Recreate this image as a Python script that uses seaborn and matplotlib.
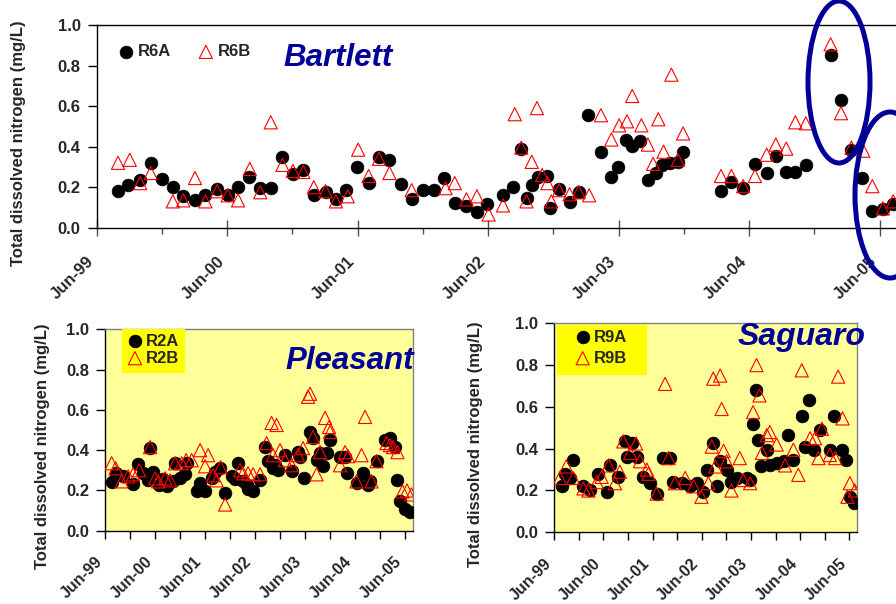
import numpy as np
import pandas as pd
import matplotlib
matplotlib.use("Agg")
import matplotlib.pyplot as plt
import seaborn as sns
from matplotlib.patches import Ellipse, Rectangle
from matplotlib.ticker import FixedLocator, FormatStrFormatter
from matplotlib.transforms import ScaledTranslation

sns.set_style("white")
plt.rcParams['font.family'] = ['Liberation Sans', 'DejaVu Sans']
plt.rcParams['font.weight'] = 'bold'

# %% Data (decimal year, mg/L)
r6a_t = [1999.58, 1999.66, 1999.75, 1999.83, 1999.92, 2000.00, 2000.08, 2000.17, 2000.25, 2000.34,
         2000.42, 2000.50, 2000.58, 2000.67, 2000.75, 2000.84, 2000.92, 2001.00, 2001.08, 2001.17,
         2001.25, 2001.33, 2001.41, 2001.50, 2001.58, 2001.66, 2001.75, 2001.83, 2001.92, 2002.00,
         2002.08, 2002.16, 2002.25, 2002.33, 2002.41, 2002.53, 2002.61, 2002.67, 2002.71, 2002.75,
         2002.80, 2002.87, 2002.89, 2002.96, 2003.04, 2003.11, 2003.18, 2003.28, 2003.36, 2003.41,
         2003.47, 2003.52, 2003.58, 2003.64, 2003.70, 2003.75, 2003.81, 2003.87, 2003.91, 2004.20,
         2004.28, 2004.37, 2004.46, 2004.55, 2004.62, 2004.70, 2004.77, 2004.85, 2005.04, 2005.12,
         2005.20, 2005.28, 2005.36, 2005.44, 2005.52]
r6a_v = [0.18, 0.21, 0.235, 0.32, 0.24, 0.20, 0.155, 0.135, 0.16, 0.19,
         0.16, 0.20, 0.25, 0.195, 0.195, 0.35, 0.265, 0.285, 0.16, 0.175,
         0.14, 0.185, 0.30, 0.22, 0.35, 0.335, 0.215, 0.14, 0.185, 0.185,
         0.245, 0.12, 0.105, 0.075, 0.115, 0.16, 0.20, 0.39, 0.145, 0.21,
         0.25, 0.255, 0.095, 0.19, 0.125, 0.175, 0.555, 0.375, 0.25, 0.30,
         0.435, 0.405, 0.43, 0.235, 0.27, 0.31, 0.32, 0.325, 0.375, 0.18,
         0.225, 0.195, 0.315, 0.27, 0.355, 0.275, 0.275, 0.31, 0.85, 0.63,
         0.385, 0.245, 0.08, 0.09, 0.115]

r6b_t = [1999.58, 1999.67, 1999.75, 1999.83, 2000.00, 2000.08, 2000.17, 2000.25, 2000.34, 2000.42,
         2000.50, 2000.59, 2000.67, 2000.75, 2000.84, 2000.92, 2001.00, 2001.08, 2001.17, 2001.25,
         2001.34, 2001.42, 2001.50, 2001.58, 2001.66, 2001.83, 2002.09, 2002.16, 2002.25, 2002.33,
         2002.42, 2002.53, 2002.62, 2002.67, 2002.71, 2002.75, 2002.79, 2002.83, 2002.87, 2002.90,
         2002.96, 2003.04, 2003.11, 2003.19, 2003.28, 2003.36, 2003.42, 2003.48, 2003.52, 2003.59,
         2003.64, 2003.68, 2003.72, 2003.76, 2003.82, 2003.87, 2003.91, 2004.20, 2004.28, 2004.37,
         2004.46, 2004.55, 2004.62, 2004.70, 2004.77, 2004.85, 2005.04, 2005.12, 2005.20, 2005.29,
         2005.36, 2005.44, 2005.52]
r6b_v = [0.32, 0.335, 0.22, 0.27, 0.13, 0.135, 0.245, 0.13, 0.18, 0.16,
         0.135, 0.29, 0.175, 0.52, 0.31, 0.28, 0.275, 0.20, 0.18, 0.13,
         0.155, 0.385, 0.255, 0.34, 0.27, 0.185, 0.195, 0.22, 0.14, 0.155,
         0.065, 0.11, 0.56, 0.395, 0.13, 0.325, 0.59, 0.26, 0.22, 0.13,
         0.185, 0.165, 0.175, 0.16, 0.555, 0.435, 0.505, 0.525, 0.65, 0.505,
         0.41, 0.315, 0.535, 0.375, 0.755, 0.335, 0.465, 0.255, 0.255, 0.205,
         0.255, 0.36, 0.41, 0.39, 0.52, 0.515, 0.905, 0.565, 0.395, 0.38,
         0.205, 0.095, 0.13]

r2a_t = [1999.55, 1999.64, 1999.77, 1999.97, 2000.08, 2000.18, 2000.28, 2000.32, 2000.38, 2000.50,
         2000.58, 2000.65, 2000.78, 2000.82, 2000.92, 2001.02, 2001.05, 2001.25, 2001.32, 2001.42,
         2001.55, 2001.62, 2001.72, 2001.82, 2001.95, 2002.02, 2002.08, 2002.18, 2002.25, 2002.28,
         2002.38, 2002.52, 2002.62, 2002.68, 2002.78, 2002.82, 2002.88, 2003.02, 2003.15, 2003.28,
         2003.32, 2003.40, 2003.52, 2003.58, 2003.65, 2003.72, 2003.78, 2003.85, 2003.92, 2004.12,
         2004.22, 2004.26, 2004.45, 2004.58, 2004.68, 2004.72, 2004.85, 2005.02, 2005.12, 2005.22,
         2005.25, 2005.32, 2005.42, 2005.52]
r2a_v = [0.24, 0.285, 0.27, 0.23, 0.33, 0.285, 0.25, 0.41, 0.29, 0.225,
         0.255, 0.22, 0.245, 0.335, 0.26, 0.28, 0.335, 0.195, 0.235, 0.195,
         0.26, 0.29, 0.31, 0.185, 0.27, 0.255, 0.335, 0.245, 0.225, 0.205,
         0.195, 0.25, 0.415, 0.345, 0.31, 0.325, 0.30, 0.375, 0.295, 0.39,
         0.365, 0.26, 0.49, 0.46, 0.35, 0.385, 0.32, 0.385, 0.45, 0.365,
         0.365, 0.285, 0.235, 0.285, 0.225, 0.245, 0.345, 0.45, 0.46, 0.415,
         0.25, 0.145, 0.11, 0.095]

r2b_t = [1999.55, 1999.63, 1999.75, 1999.88, 1999.98, 2000.10, 2000.32, 2000.42, 2000.48, 2000.62,
         2000.72, 2000.82, 2000.95, 2001.04, 2001.15, 2001.32, 2001.42, 2001.48, 2001.58, 2001.65,
         2001.73, 2001.82, 2002.12, 2002.18, 2002.28, 2002.38, 2002.52, 2002.65, 2002.75, 2002.78,
         2002.85, 2002.92, 2003.02, 2003.15, 2003.28, 2003.38, 2003.48, 2003.52, 2003.58, 2003.65,
         2003.72, 2003.82, 2003.90, 2003.92, 2004.12, 2004.22, 2004.28, 2004.45, 2004.55, 2004.62,
         2004.75, 2004.85, 2005.05, 2005.12, 2005.18, 2005.27, 2005.37, 2005.46, 2005.55]
r2b_v = [0.335, 0.31, 0.245, 0.27, 0.28, 0.30, 0.415, 0.26, 0.245, 0.26,
         0.25, 0.335, 0.335, 0.35, 0.35, 0.40, 0.32, 0.375, 0.275, 0.25,
         0.315, 0.13, 0.30, 0.285, 0.285, 0.28, 0.28, 0.435, 0.535, 0.375,
         0.525, 0.40, 0.35, 0.325, 0.375, 0.41, 0.665, 0.68, 0.465, 0.28,
         0.39, 0.56, 0.515, 0.49, 0.325, 0.39, 0.37, 0.245, 0.375, 0.565,
         0.245, 0.345, 0.435, 0.425, 0.415, 0.39, 0.195, 0.20, 0.18]

r9a_t = [1999.57, 1999.63, 1999.74, 1999.80, 2000.01, 2000.14, 2000.31, 2000.48, 2000.55, 2000.72,
         2000.86, 2000.89, 2000.99, 2001.09, 2001.23, 2001.36, 2001.50, 2001.63, 2001.77, 2001.84,
         2002.01, 2002.18, 2002.31, 2002.45, 2002.52, 2002.65, 2002.72, 2002.79, 2002.92, 2003.02,
         2003.13, 2003.33, 2003.40, 2003.45, 2003.52, 2003.57, 2003.63, 2003.74, 2003.80, 2003.94,
         2004.08, 2004.18, 2004.28, 2004.45, 2004.52, 2004.60, 2004.69, 2004.82, 2005.02, 2005.11,
         2005.26, 2005.36, 2005.43, 2005.51]
r9a_v = [0.22, 0.28, 0.26, 0.345, 0.22, 0.20, 0.28, 0.195, 0.32, 0.265,
         0.435, 0.36, 0.425, 0.36, 0.265, 0.235, 0.185, 0.355, 0.355, 0.24,
         0.235, 0.22, 0.235, 0.195, 0.30, 0.425, 0.22, 0.34, 0.30, 0.24,
         0.26, 0.26, 0.25, 0.52, 0.68, 0.44, 0.315, 0.395, 0.32, 0.33,
         0.34, 0.465, 0.345, 0.555, 0.41, 0.635, 0.395, 0.49, 0.395, 0.555,
         0.395, 0.345, 0.17, 0.14]

r9b_t = [1999.53, 1999.66, 1999.80, 2000.01, 2000.11, 2000.28, 2000.38, 2000.52, 2000.65, 2000.75,
         2000.82, 2000.96, 2001.08, 2001.16, 2001.30, 2001.33, 2001.50, 2001.67, 2001.74, 2001.87,
         2002.08, 2002.25, 2002.41, 2002.55, 2002.62, 2002.65, 2002.69, 2002.79, 2002.82, 2002.86,
         2002.92, 2003.02, 2003.19, 2003.26, 2003.40, 2003.46, 2003.53, 2003.59, 2003.64, 2003.74,
         2003.80, 2003.94, 2004.11, 2004.28, 2004.38, 2004.45, 2004.62, 2004.72, 2004.79, 2004.86,
         2005.02, 2005.13, 2005.19, 2005.28, 2005.38, 2005.43, 2005.53]
r9b_v = [0.26, 0.315, 0.26, 0.21, 0.20, 0.24, 0.265, 0.32, 0.235, 0.29,
         0.435, 0.38, 0.425, 0.34, 0.30, 0.28, 0.185, 0.71, 0.355, 0.235,
         0.26, 0.22, 0.17, 0.235, 0.41, 0.735, 0.315, 0.75, 0.59, 0.39,
         0.34, 0.20, 0.355, 0.25, 0.235, 0.575, 0.80, 0.655, 0.38, 0.465,
         0.48, 0.42, 0.32, 0.395, 0.275, 0.775, 0.45, 0.45, 0.355, 0.495,
         0.37, 0.355, 0.745, 0.545, 0.17, 0.235, 0.20]

years = list(range(1999, 2006))
tick_labels = [f"Jun-{y % 100:02d}" for y in years]
jun_ticks = [y + 5 / 12 for y in years]
dec_ticks = [y + 11 / 12 for y in years]

NAVY = '#000099'
W, H = 896, 604
fig = plt.figure(figsize=(W / 100, H / 100), dpi=100)


def box(l, t, r, b):
    return [l / W, 1 - b / H, (r - l) / W, (b - t) / H]


def fpos(x, y):
    return x / W, 1 - y / H


def panel(ax, ta, va, tb, vb, la, lb, xmax, bg, pad, dx, xsize):
    ax.set_facecolor(bg)
    sns.scatterplot(x=ta, y=va, ax=ax, marker='o', s=84, color='black',
                    edgecolor='black', linewidth=0.5, label=la, zorder=3)
    sns.scatterplot(x=tb, y=vb, ax=ax, marker='^', s=90, facecolor='none',
                    edgecolor='red', linewidth=0.8, label=lb, zorder=4)
    ax.set_xlim(jun_ticks[0], xmax)
    ax.set_ylim(0, 1)
    ax.yaxis.set_major_locator(FixedLocator(np.arange(0, 1.01, 0.2)))
    ax.yaxis.set_major_formatter(FormatStrFormatter('%.1f'))
    ax.xaxis.set_major_locator(FixedLocator(jun_ticks))
    ax.xaxis.set_minor_locator(FixedLocator(dec_ticks))
    ax.set_xticklabels(tick_labels, rotation=45, ha='right')
    ax.tick_params(axis='y', direction='out', length=6.5, width=1, color='black',
                   labelsize=12, pad=5, left=True)
    ax.tick_params(axis='x', which='both', labelsize=xsize, pad=pad, bottom=True)
    for lab in ax.get_yticklabels() + ax.get_xticklabels():
        lab.set_fontweight('bold')
    off = ScaledTranslation(dx / 100, 0, fig.dpi_scale_trans)
    for lab in ax.get_xticklabels():
        lab.set_transform(lab.get_transform() + off)
    for s in ax.spines.values():
        s.set_linewidth(1)
        s.set_color('black')


# %% Bartlett (top, runs past the right edge of the slide)
ax_top = fig.add_axes(box(96.7, 25, 945, 227.7))
panel(ax_top, r6a_t, r6a_v, r6b_t, r6b_v, 'R6A', 'R6B', 2005 + 11 / 12, 'white', 13, -7, 12)
ax_top.tick_params(axis='x', which='major', direction='inout', length=11, width=1, color='#505050')
ax_top.tick_params(axis='x', which='minor', direction='out', length=4, width=1, color='#505050')
ax_top.legend(loc='upper left', bbox_to_anchor=(0.0266, 0.905), ncol=2, frameon=False,
              handlelength=0.8, handletextpad=0.3, columnspacing=1.7, borderpad=0,
              borderaxespad=0, prop={'weight': 'bold', 'size': 12})

# %% Pleasant (bottom left)
ax_pl = fig.add_axes(box(105, 329.3, 413, 530.7))
panel(ax_pl, r2a_t, r2a_v, r2b_t, r2b_v, 'R2A', 'R2B', 2005.58, '#FFFF99', 11, -9, 11.5)
ax_pl.add_patch(Rectangle((0.0552, 0.783), 0.2045, 0.217, transform=ax_pl.transAxes,
                          facecolor='#FFFF00', edgecolor='none', zorder=4.5))
ax_pl.legend(loc='upper left', bbox_to_anchor=(0.0757, 0.979), frameon=False,
             handlelength=0.8, handletextpad=0.25, labelspacing=0.12, borderpad=0,
             borderaxespad=0, prop={'weight': 'bold', 'size': 12})

# %% Saguaro (bottom right)
ax_sg = fig.add_axes(box(554.3, 323.3, 857.3, 532.3))
panel(ax_sg, r9a_t, r9a_v, r9b_t, r9b_v, 'R9A', 'R9B', 2005.58, '#FFFF99', 11, -9, 11.5)
ax_sg.add_patch(Rectangle((0.0089, 0.753), 0.297, 0.239, transform=ax_sg.transAxes,
                          facecolor='#FFFF00', edgecolor='none', zorder=4.5))
ax_sg.legend(loc='upper left', bbox_to_anchor=(0.0716, 0.970), frameon=False,
             handlelength=0.8, handletextpad=0.28, labelspacing=0.36, borderpad=0,
             borderaxespad=0, prop={'weight': 'bold', 'size': 12})

for ax in (ax_pl, ax_sg):
    ax.tick_params(axis='x', which='both', direction='out', length=6, width=1, color='black')
    ax.spines['top'].set_color('#808080')
    ax.spines['right'].set_color('#808080')

# %% Reservoir names and axis titles
title_kw = dict(fontweight='bold', fontstyle='italic', color=NAVY, va='baseline')
fig.text(*fpos(283, 66), 'Bartlett', fontsize=22.5, **title_kw)
fig.text(*fpos(414, 369), 'Pleasant', ha='right', fontsize=22.5, **title_kw)
fig.text(*fpos(738, 345), 'Saguaro', fontsize=23, **title_kw)

ylab = 'Total dissolved nitrogen (mg/L)'
for x, y in [(19, 143), (42, 446), (475, 444)]:
    fig.text(*fpos(x, y), ylab, rotation=90, ha='center', va='center',
             fontsize=12, fontweight='bold')

# %% Hand-drawn highlight ellipses
for cx, cy, w, h in [(839, 82, 62, 162), (890, 195, 70, 166)]:
    fig.add_artist(Ellipse(fpos(cx, cy), w / W, h / H, transform=fig.transFigure,
                           fill=False, edgecolor=NAVY, linewidth=3.6, zorder=10))

fig.savefig('out.png', dpi=100)
